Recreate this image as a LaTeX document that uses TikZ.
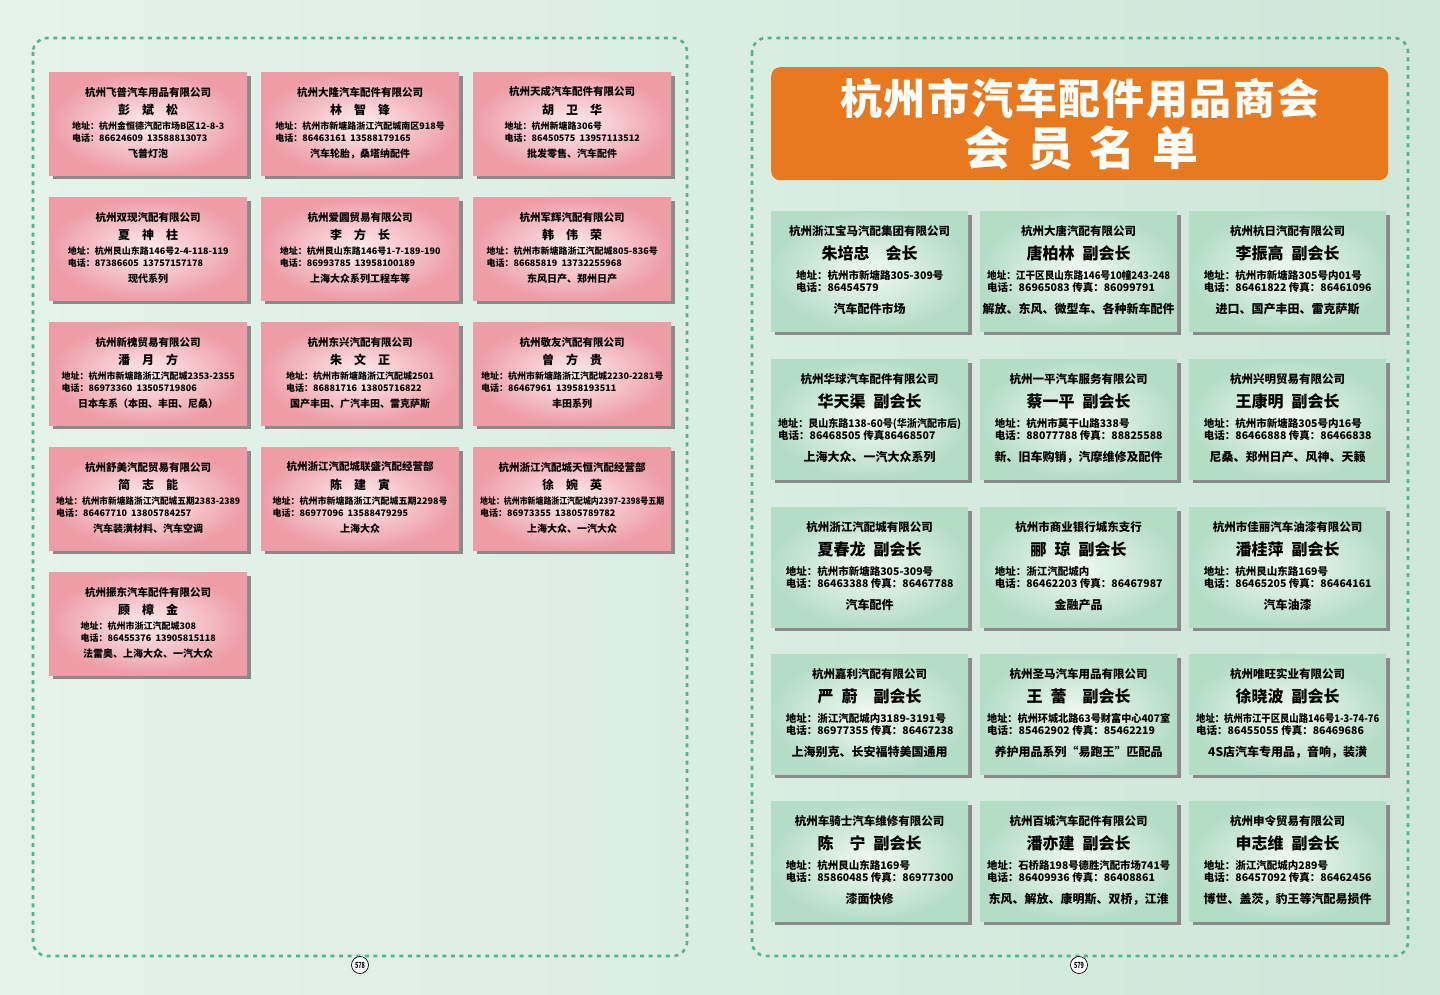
\documentclass[tikz,border=0pt]{standalone}
\usepackage{fontspec}
\usepackage{graphicx}
\usetikzlibrary{shadows}
\newfontfamily\cjk{Noto Sans CJK SC}
\definecolor{bgA}{RGB}{230,243,235}
\definecolor{bgB}{RGB}{205,231,217}
\definecolor{pinkin}{RGB}{253,236,238}
\definecolor{pinkout}{RGB}{238,156,166}
\definecolor{greenin}{RGB}{242,249,244}
\definecolor{greenout}{RGB}{180,221,198}
\definecolor{shadowgray}{RGB}{138,138,138}
\definecolor{titleorange}{RGB}{232,121,30}
\definecolor{dashgreen}{RGB}{85,180,143}
\newlength\linewd
\newcommand\fitto[2]{\settowidth\linewd{#2}\ifdim\linewd>#1\relax\resizebox{#1}{\height}{#2}\else#2\fi}
\newcommand\pinkcard[8]{%
	\node[pinkbox] (#1) at (#2,#3) {};
	\node[lco] (#1co) at ([yshift=-20pt]#1.north) {#4};
	\node[lname] (#1nm) at ([yshift=-38pt]#1.north) {#5};
	\node[laddr] (#1ad) at ([yshift=-60pt]#1.north) {\fitto{184pt}{#6}\\\fitto{184pt}{#7}};
	\node[lprod] (#1pr) at ([yshift=-82pt]#1.north) {#8};
}
\newcommand\greencard[8]{%
	\node[greenbox] (#1) at (#2,#3) {};
	\node[rco] (#1co) at ([yshift=-20pt]#1.north) {#4};
	\node[rname] (#1nm) at ([yshift=-42pt]#1.north) {#5};
	\node[raddr] (#1ad) at ([yshift=-70pt]#1.north) {\fitto{183pt}{#6}\\\fitto{183pt}{#7}};
	\node[rprod] (#1pr) at ([yshift=-98pt]#1.north) {#8};
}
\begin{document}
\begin{tikzpicture}[x=1pt,y=-1pt,
	cardshadow/.style={drop shadow={fill=shadowgray,opacity=1,shadow xshift=3.5pt,shadow yshift=-3.5pt}},
	pinkbox/.style={anchor=north west,minimum width=198pt,minimum height=103pt,inner sep=0pt,inner color=pinkin,outer color=pinkout,cardshadow},
	greenbox/.style={anchor=north west,minimum width=197pt,minimum height=120pt,inner sep=0pt,inner color=greenin,outer color=greenout,cardshadow},
	lco/.style={inner sep=0pt,font=\cjk\bfseries\fontsize{10.5}{12}\selectfont},
	lname/.style={inner sep=0pt,font=\cjk\bfseries\fontsize{12}{14}\selectfont},
	laddr/.style={inner sep=0pt,align=left,font=\cjk\bfseries\fontsize{9}{12}\selectfont},
	lprod/.style={inner sep=0pt,font=\cjk\bfseries\fontsize{10}{12}\selectfont},
	rco/.style={inner sep=0pt,font=\cjk\bfseries\fontsize{11.5}{13}\selectfont},
	rname/.style={inner sep=0pt,font=\cjk\bfseries\fontsize{16}{18}\selectfont},
	raddr/.style={inner sep=0pt,align=left,font=\cjk\bfseries\fontsize{10.5}{12}\selectfont},
	rprod/.style={inner sep=0pt,font=\cjk\bfseries\fontsize{12}{14}\selectfont},
	frame/.style={draw=dashgreen,line width=2.6pt,dash pattern=on 4pt off 4.6pt,rounded corners=14pt},
	pagenum/.style={circle,draw=black,line width=0.7pt,fill=white,minimum size=17pt,inner sep=0pt,font=\cjk\bfseries\fontsize{8.5}{8.5}\selectfont},
	titlebox/.style={anchor=north west,minimum width=617pt,minimum height=113pt,rounded corners=9pt,fill=titleorange},
	tline/.style={text=white,inner sep=0pt}]
	\useasboundingbox (0,0) rectangle (1440,995);
	\shade[left color=bgA,right color=bgB] (0,0) rectangle (1440,995);
	\draw[frame] (33,38) rectangle (687,956);
	\draw[frame] (752,38) rectangle (1408,956);
	\node[pagenum] (pg578) at (360,965) {\resizebox{10pt}{\height}{578}};
	\node[pagenum] (pg579) at (1079,965) {\resizebox{10pt}{\height}{579}};

	\pinkcard{l1}{49}{72}{杭州飞普汽车用品有限公司}{彭　斌　松}{地址：杭州金恒德汽配市场B区12-8-3}{电话：86624609~~13588813073}{飞普灯泡}
	\pinkcard{l2}{261}{72}{杭州大隆汽车配件有限公司}{林　智　锋}{地址：杭州市新塘路浙江汽配城南区918号}{电话：86463161~~13588179165}{汽车轮胎，桑塔纳配件}
	\pinkcard{l3}{473}{72}{杭州天成汽车配件有限公司}{胡　卫　华}{地址：杭州新塘路306号}{电话：86450575~~13957113512}{批发零售、汽车配件}
	\pinkcard{l4}{49}{197}{杭州双现汽配有限公司}{夏　神　柱}{地址：杭州艮山东路146号2-4-118-119}{电话：87386605~~13757157178}{现代系列}
	\pinkcard{l5}{261}{197}{杭州爱圆贸易有限公司}{李　方　长}{地址：杭州艮山东路146号1-7-189-190}{电话：86993785~~13958100189}{上海大众系列工程车等}
	\pinkcard{l6}{473}{197}{杭州军辉汽配有限公司}{韩　伟　荣}{地址：杭州市新塘路浙江汽配城805-836号}{电话：86685819~~13732255968}{东风日产、郑州日产}
	\pinkcard{l7}{49}{322}{杭州新槐贸易有限公司}{潘　月　方}{地址：杭州市新塘路浙江汽配城2353-2355}{电话：86973360~~13505719806}{日本车系（本田、丰田、尼桑）}
	\pinkcard{l8}{261}{322}{杭州东兴汽配有限公司}{朱　文　正}{地址：杭州市新塘路浙江汽配城2501}{电话：86881716~~13805716822}{国产丰田、广汽丰田、雷克萨斯}
	\pinkcard{l9}{473}{322}{杭州敬友汽配有限公司}{曾　方　贵}{地址：杭州市新塘路浙江汽配城2230-2281号}{电话：86467961~~13958193511}{丰田系列}
	\pinkcard{l10}{49}{447}{杭州舒美汽配贸易有限公司}{简　志　能}{地址：杭州市新塘路浙江汽配城五期2383-2389}{电话：86467710~~13805784257}{汽车装潢材料、汽车空调}
	\pinkcard{l11}{261}{447}{杭州浙江汽配城联盛汽配经营部}{陈　建　寅}{地址：杭州市新塘路浙江汽配城五期2298号}{电话：86977096~~13588479295}{上海大众}
	\pinkcard{l12}{473}{447}{杭州浙江汽配城天恒汽配经营部}{徐　婉　英}{地址：杭州市新塘路浙江汽配城内2397-2398号五期}{电话：86973355~~13805789782}{上海大众、一汽大众}
	\pinkcard{l13}{49}{572}{杭州振东汽车配件有限公司}{顾　樟　金}{地址：杭州市浙江汽配城308}{电话：86455376~~13905815118}{法雷奥、上海大众、一汽大众}

	\node[titlebox] (title) at (771,67) {};
	\node[tline,font=\cjk\bfseries\fontsize{42}{42}\selectfont\addfontfeature{LetterSpace=4}] (t1) at ([yshift=-31pt]title.north) {杭州市汽车配件用品商会};
	\node[tline,font=\cjk\bfseries\fontsize{46}{46}\selectfont\addfontfeature{LetterSpace=36},xshift=2pt] (t2) at ([yshift=-81pt]title.north) {会员名单};

	\greencard{r1}{771}{211}{杭州浙江宝马汽配集团有限公司}{朱培忠　会长}{地址：杭州市新塘路305-309号}{电话：86454579}{汽车配件市场}
	\greencard{r2}{980}{211}{杭州大唐汽配有限公司}{唐柏林\enspace 副会长}{地址：江干区艮山东路146号10幢243-248}{电话：86965083~传真：86099791}{解放、东风、微型车、各种新车配件}
	\greencard{r3}{1189}{211}{杭州杭日汽配有限公司}{李振高\enspace 副会长}{地址：杭州市新塘路305号内01号}{电话：86461822~传真：86461096}{进口、国产丰田、雷克萨斯}
	\greencard{r4}{771}{359}{杭州华球汽车配件有限公司}{华天渠\enspace 副会长}{地址：艮山东路138-60号(华浙汽配市后)}{电话：86468505~传真86468507}{上海大众、一汽大众系列}
	\greencard{r5}{980}{359}{杭州一平汽车服务有限公司}{蔡一平\enspace 副会长}{地址：杭州市莫干山路338号}{电话：88077788~传真：88825588}{新、旧车购销，汽摩维修及配件}
	\greencard{r6}{1189}{359}{杭州兴明贸易有限公司}{王康明\enspace 副会长}{地址：杭州市新塘路305号内16号}{电话：86466888~传真：86466838}{尼桑、郑州日产、风神、天籁}
	\greencard{r7}{771}{507}{杭州浙江汽配城有限公司}{夏春龙\enspace 副会长}{地址：杭州市新塘路305-309号}{电话：86463388~传真：86467788}{汽车配件}
	\greencard{r8}{980}{507}{杭州市商业银行城东支行}{郦\enspace 琼\enspace 副会长}{地址：浙江汽配城内}{电话：86462203~传真：86467987}{金融产品}
	\greencard{r9}{1189}{507}{杭州市佳丽汽车油漆有限公司}{潘桂萍\enspace 副会长}{地址：杭州艮山东路169号}{电话：86465205~传真：86464161}{汽车油漆}
	\greencard{r10}{771}{654}{杭州嘉利汽配有限公司}{严\enspace 蔚\quad 副会长}{地址：浙江汽配城内3189-3191号}{电话：86977355~传真：86467238}{上海别克、长安福特美国通用}
	\greencard{r11}{980}{654}{杭州圣马汽车用品有限公司}{王\enspace 蕾\quad 副会长}{地址：杭州环城北路63号财富中心407室}{电话：85462902~传真：85462219}{养护用品系列“易跑王”匹配品}
	\greencard{r12}{1189}{654}{杭州唯旺实业有限公司}{徐晓波\enspace 副会长}{地址：杭州市江干区艮山路146号1-3-74-76}{电话：86455055~传真：86469686}{4S店汽车专用品，音响，装潢}
	\greencard{r13}{771}{801}{杭州车骑士汽车维修有限公司}{陈　宁\enspace 副会长}{地址：杭州艮山东路169号}{电话：85860485~传真：86977300}{漆面快修}
	\greencard{r14}{980}{801}{杭州百城汽车配件有限公司}{潘亦建\enspace 副会长}{地址：石桥路198号德胜汽配市场741号}{电话：86409936~传真：86408861}{东风、解放、康明斯、双桥，江淮}
	\greencard{r15}{1189}{801}{杭州申令贸易有限公司}{申志维\enspace 副会长}{地址：浙江汽配城内289号}{电话：86457092~传真：86462456}{博世、盖茨，豹王等汽配易损件}
\end{tikzpicture}
\end{document}
